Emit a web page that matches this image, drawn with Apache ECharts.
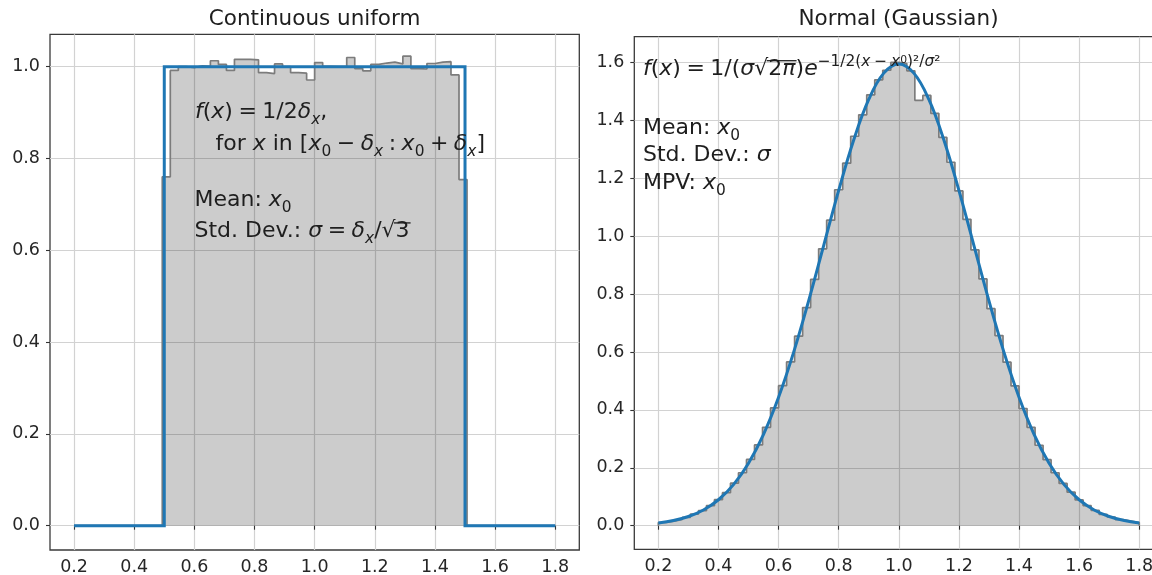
<!DOCTYPE html>
<html>
<head>
<meta charset="utf-8">
<script src="https://cdn.jsdelivr.net/npm/echarts@6/dist/echarts.min.js"></script>
<style>
  html, body { margin: 0; padding: 0; background: #ffffff; }
  #chart { width: 1152px; height: 575px; }
</style>
</head>
<body>
<div id="chart"></div>
<script>
// ---- data -------------------------------------------------------------
const xTicks = [0.2, 0.4, 0.6, 0.8, 1.0, 1.2, 1.4, 1.6, 1.8];
const yTicksUniform = [0.0, 0.2, 0.4, 0.6, 0.8, 1.0];
const yTicksNormal = [0.0, 0.2, 0.4, 0.6, 0.8, 1.0, 1.2, 1.4, 1.6];

// histogram binning shared by both panels
const binRange = [0.2, 1.8];
const binCount = 60;

// normalised sample histogram, continuous uniform on [0.5, 1.5]
const uniformHist = [
  0, 0, 0, 0, 0, 0, 0, 0, 0, 0, 0,
  0.760,
  0.992, 1.000, 0.998, 1.002, 1.001, 1.013, 1.005, 0.992, 1.016, 1.016,
  1.015, 0.987, 0.985, 1.006, 1.000, 0.987, 0.986, 0.971, 1.009, 1.001,
  1.000, 1.001, 1.020, 0.996, 0.991, 1.005, 1.008, 1.010, 1.006, 1.023,
  0.996, 0.995, 1.007, 1.010, 1.011, 0.982,
  0.754,
  0, 0, 0, 0, 0, 0, 0, 0, 0, 0, 0
];

// normalised sample histogram, normal distribution
const normalHist = [
  0.011, 0.016, 0.022, 0.029, 0.040, 0.052, 0.069, 0.090, 0.114, 0.147,
  0.183, 0.229, 0.279, 0.340, 0.407, 0.484, 0.566, 0.655, 0.754, 0.851,
  0.957, 1.056, 1.161, 1.253, 1.346, 1.420, 1.489, 1.541, 1.574, 1.601,
  1.597, 1.572, 1.470, 1.487, 1.425, 1.342, 1.256, 1.157, 1.059, 0.953,
  0.853, 0.750, 0.657, 0.565, 0.483, 0.405, 0.340, 0.278, 0.228, 0.183,
  0.146, 0.116, 0.089, 0.069, 0.053, 0.039, 0.030, 0.021, 0.016, 0.011
];

// density curves
const uniformPdfX = [0.2, 0.5, 0.5, 1.5, 1.5, 1.8];
const uniformPdfY = [0, 0, 1, 1, 0, 0];

const normalPdfX = [
  0.20, 0.25, 0.30, 0.35, 0.40, 0.45, 0.50, 0.55, 0.60, 0.65, 0.70,
  0.75, 0.80, 0.85, 0.90, 0.95, 1.00, 1.05, 1.10, 1.15, 1.20, 1.25,
  1.30, 1.35, 1.40, 1.45, 1.50, 1.55, 1.60, 1.65, 1.70, 1.75, 1.80
];
const normalPdfY = [
  0.0095, 0.0177, 0.0317, 0.0543, 0.0896, 0.1419, 0.2160, 0.3158, 0.4437, 0.5989, 0.7768,
  0.9679, 1.1588, 1.3329, 1.4731, 1.5642, 1.5958, 1.5642, 1.4731, 1.3329, 1.1588, 0.9679,
  0.7768, 0.5989, 0.4437, 0.3158, 0.2160, 0.1419, 0.0896, 0.0543, 0.0317, 0.0177, 0.0095
];

// ---- helpers ----------------------------------------------------------
const binEdges = Array.from({ length: binCount + 1 },
  (_, k) => binRange[0] + k * (binRange[1] - binRange[0]) / binCount);

// points for a stepped outline (step: 'end') closing down to zero
function stepPoints(values) {
  const pts = [[binEdges[0], 0]];
  values.forEach((v, k) => pts.push([binEdges[k], v]));
  pts.push([binEdges[binCount], values[values.length - 1]]);
  pts.push([binEdges[binCount], 0]);
  return pts;
}
const zip = (xs, ys) => xs.map((x, i) => [x, ys[i]]);

const FONT = 'DejaVu Sans';
const INK = '#1e1e1e';
const TICK_INK = '#262626';
const BLUE = '#1f77b4';

// ---- axes -------------------------------------------------------------
function xAxisFor(gridIndex) {
  return {
    type: 'value', gridIndex, min: 0.12, max: 1.88,
    axisLine: { show: false },
    axisTick: { show: true, customValues: xTicks, length: 4, lineStyle: { color: '#333', width: 1.1 } },
    axisLabel: {
      customValues: xTicks, formatter: v => v.toFixed(1),
      fontSize: 17.5, fontFamily: FONT, color: TICK_INK, margin: 8
    },
    splitLine: { show: true, lineStyle: { color: '#d2d2d2', width: 1.2 } }
  };
}
function yAxisFor(gridIndex, min, max, ticks) {
  return {
    type: 'value', gridIndex, min, max,
    axisLine: { show: false },
    axisTick: { show: true, customValues: ticks, length: 4, lineStyle: { color: '#333', width: 1.1 } },
    axisLabel: {
      customValues: ticks, formatter: v => v.toFixed(1),
      fontSize: 17.5, fontFamily: FONT, color: TICK_INK, margin: 10
    },
    splitLine: { show: true, lineStyle: { color: '#d2d2d2', width: 1.2 } }
  };
}

function histSeries(values, idx) {
  const pts = stepPoints(values);
  return [
    {
      type: 'line', xAxisIndex: idx, yAxisIndex: idx, data: pts, step: 'end',
      symbol: 'none', silent: true, z: 2,
      lineStyle: { width: 0, opacity: 0 },
      areaStyle: { color: 'rgba(0,0,0,0.2)', opacity: 1 }
    },
    {
      type: 'line', xAxisIndex: idx, yAxisIndex: idx, data: pts, step: 'end',
      symbol: 'none', silent: true, z: 3,
      lineStyle: { color: '#7c7c7c', width: 1.7 }
    }
  ];
}

// ---- annotation text (math set with rich text) ------------------------
const MAIN = 22, SUB = 15.4, SUB2 = 10.8, LH = 30;
const rich = {
  n:   { fontSize: MAIN, fontFamily: FONT, fill: INK, lineHeight: LH },
  i:   { fontSize: MAIN, fontFamily: FONT, fontStyle: 'italic', fill: INK, lineHeight: LH },
  sb:  { fontSize: SUB, fontFamily: FONT, fill: INK, lineHeight: 18, verticalAlign: 'bottom' },
  sbi: { fontSize: SUB, fontFamily: FONT, fontStyle: 'italic', fill: INK, lineHeight: 18, verticalAlign: 'bottom' },
  sp:  { fontSize: SUB, fontFamily: FONT, fill: INK, lineHeight: 22.6, verticalAlign: 'top' },
  spi: { fontSize: SUB, fontFamily: FONT, fontStyle: 'italic', fill: INK, lineHeight: 22.6, verticalAlign: 'top' },
  sps: { fontSize: SUB2, fontFamily: FONT, fill: INK, lineHeight: 28.6, verticalAlign: 'top' }
};
const S = '\u2005';

const annotations = [
  { x: 195, top: 97.4, tokens: [
    ['f', 'i'], ['(', 'n'], ['x', 'i'], [')', 'n'], [S + '=' + S, 'n'], ['1/2', 'n'],
    ['δ', 'i'], ['x', 'sbi'], [',', 'n']] },
  { x: 215.5, top: 129.4, tokens: [
    ['for ', 'n'], ['x', 'i'], [' in [', 'n'], ['x', 'i'], ['0', 'sb'], [S + '−' + S, 'n'],
    ['δ', 'i'], ['x', 'sbi'], [S + ':' + S, 'n'], ['x', 'i'], ['0', 'sb'], [S + '+' + S, 'n'],
    ['δ', 'i'], ['x', 'sbi'], [']', 'n']] },
  { x: 194.5, top: 185.1, tokens: [['Mean: ', 'n'], ['x', 'i'], ['0', 'sb']] },
  { x: 194.5, top: 216.7, tokens: [
    ['Std. Dev.: ', 'n'], ['σ', 'i'], [S + '=' + S, 'n'], ['δ', 'i'], ['x', 'sbi'], ['/', 'n'],
    ['√', 'n', 'root'], ['3', 'n', 'ov']] },
  { x: 643, top: 54.5, tokens: [
    ['f', 'i'], ['(', 'n'], ['x', 'i'], [')', 'n'], [S + '=' + S, 'n'], ['1/(', 'n'], ['σ', 'i'],
    ['√', 'n', 'root'], ['2', 'n', 'ov'], ['π', 'i', 'ov'], [')', 'n'], ['e', 'i'],
    ['−1/2(', 'sp'], ['x', 'spi'], [S + '−' + S, 'sp'], ['x', 'spi'], ['0', 'sps'],
    [')²/', 'sp'], ['σ', 'spi'], ['²', 'sp']] },
  { x: 643, top: 113.4, tokens: [['Mean: ', 'n'], ['x', 'i'], ['0', 'sb']] },
  { x: 643, top: 140.7, tokens: [['Std. Dev.: ', 'n'], ['σ', 'i']] },
  { x: 643, top: 168.4, tokens: [['MPV: ', 'n'], ['x', 'i'], ['0', 'sb']] }
];

const measureCtx = document.createElement('canvas').getContext('2d');
function tokenWidth(text, styleName) {
  const s = rich[styleName];
  measureCtx.font = (s.fontStyle || 'normal') + ' normal ' + s.fontSize + 'px ' + FONT;
  return measureCtx.measureText(text).width;
}

function annotationElements(a) {
  const els = [{
    type: 'text', x: a.x, y: a.top, z: 100,
    style: {
      text: a.tokens.map(([t, s]) => '{' + s + '|' + t + '}').join(''),
      rich, align: 'left', verticalAlign: 'top', fill: INK
    }
  }];
  // radical bar drawn over the tokens flagged 'ov'
  let cursor = a.x, rootStart = null, rootW = 0, barEnd = null;
  a.tokens.forEach(([t, s, flag]) => {
    const w = tokenWidth(t, s);
    if (flag === 'root') { rootStart = cursor; rootW = w; }
    if (flag === 'ov') barEnd = cursor + w;
    cursor += w;
  });
  if (rootStart !== null && barEnd !== null) {
    const baseline = a.top + LH / 2 + 0.346 * MAIN;
    const yBar = baseline - 0.745 * MAIN;
    els.push({
      type: 'line', z: 100,
      shape: { x1: rootStart + rootW * 0.88, y1: yBar, x2: barEnd + 1, y2: yBar },
      style: { stroke: INK, lineWidth: 1.3 }
    });
  }
  return els;
}

const titles = [
  { text: 'Continuous uniform', x: 314.6 },
  { text: 'Normal (Gaussian)', x: 898.5 }
].map(t => ({
  type: 'text', x: t.x, y: 19.5,
  style: { text: t.text, fontSize: 21.5, fontFamily: FONT, fill: INK, align: 'center', verticalAlign: 'middle' }
}));

// ---- chart ------------------------------------------------------------
const chart = echarts.init(document.getElementById('chart'), null, { renderer: 'canvas' });
const gridBase = { show: true, borderColor: '#3a3a3a', borderWidth: 1.3, backgroundColor: 'transparent', containLabel: false, outerBoundsMode: 'none' };
chart.setOption({
  animation: false,
  backgroundColor: '#ffffff',
  grid: [
    Object.assign({ left: 50, top: 34.3, width: 529.3, height: 515.7 }, gridBase),
    Object.assign({ left: 634.3, top: 36.7, width: 529, height: 512.6 }, gridBase)
  ],
  xAxis: [xAxisFor(0), xAxisFor(1)],
  yAxis: [
    yAxisFor(0, -0.053, 1.0706, yTicksUniform),
    yAxisFor(1, -0.0816, 1.69, yTicksNormal)
  ],
  series: [
    ...histSeries(uniformHist, 0),
    {
      type: 'line', xAxisIndex: 0, yAxisIndex: 0, data: zip(uniformPdfX, uniformPdfY),
      symbol: 'none', silent: true, z: 4,
      lineStyle: { color: BLUE, width: 3, join: 'miter' }
    },
    ...histSeries(normalHist, 1),
    {
      type: 'line', xAxisIndex: 1, yAxisIndex: 1, data: zip(normalPdfX, normalPdfY),
      symbol: 'none', silent: true, z: 4, smooth: 0.4,
      lineStyle: { color: BLUE, width: 3 }
    }
  ],
  graphic: [...titles, ...annotations.flatMap(annotationElements)]
});
</script>
</body>
</html>
